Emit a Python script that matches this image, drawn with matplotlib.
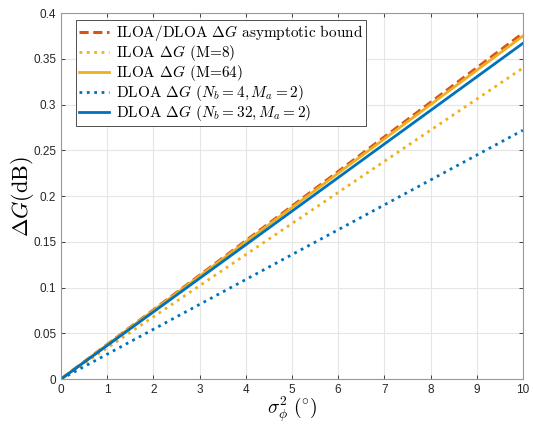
import matplotlib
matplotlib.use("Agg")
import matplotlib.pyplot as plt

# sigma_phi^2 (deg) samples and Delta G (dB)
sigma2 = [0, 1, 2, 3, 4, 5, 6, 7, 8, 9, 10]
bound = [0, 0.0378, 0.0756, 0.1134, 0.1512, 0.189, 0.2268, 0.2646, 0.3024, 0.3402, 0.378]
iloa_m8 = [0, 0.034, 0.068, 0.102, 0.136, 0.170, 0.204, 0.238, 0.272, 0.306, 0.340]
iloa_m64 = [0, 0.0375, 0.075, 0.1125, 0.150, 0.1875, 0.225, 0.2625, 0.300, 0.3375, 0.375]
dloa_nb4 = [0, 0.0272, 0.0544, 0.0816, 0.1088, 0.136, 0.1632, 0.1904, 0.2176, 0.2448, 0.272]
dloa_nb32 = [0, 0.0367, 0.0734, 0.1101, 0.1468, 0.1835, 0.2202, 0.2569, 0.2936, 0.3303, 0.367]

plt.rcParams['mathtext.fontset'] = 'cm'
plt.rcParams['font.family'] = ['Liberation Sans', 'DejaVu Sans']

red = '#D95319'
orange = '#EDB120'
blue = '#0072BD'

fig = plt.figure(figsize=(5.33, 4.24), dpi=100)
ax = fig.add_axes([0.1145, 0.106, 0.8665, 0.863])

ax.plot(sigma2, bound, color=red, linestyle='--', linewidth=2.2, dashes=(3, 1.5),
        label=r'ILOA/DLOA $\Delta G$ asymptotic bound')
ax.plot(sigma2, iloa_m8, color=orange, linestyle=':', linewidth=2,
        label=r'ILOA $\Delta G$ (M=8)')
ax.plot(sigma2, iloa_m64, color=orange, linestyle='-', linewidth=2,
        label=r'ILOA $\Delta G$ (M=64)')
ax.plot(sigma2, dloa_nb4, color=blue, linestyle=':', linewidth=2,
        label=r'DLOA $\Delta G$ $(N_b=4, M_a=2)$')
ax.plot(sigma2, dloa_nb32, color=blue, linestyle='-', linewidth=2,
        label=r'DLOA $\Delta G$ $(N_b=32, M_a=2)$')

ax.set_xlim(0, 10)
ax.set_ylim(0, 0.4)
ax.set_xticks(range(0, 11))
ax.set_yticks([0, 0.05, 0.1, 0.15, 0.2, 0.25, 0.3, 0.35, 0.4])
ax.set_yticklabels(['0', '0.05', '0.1', '0.15', '0.2', '0.25', '0.3', '0.35', '0.4'])
ax.grid(True, color='#e6e6e6', linewidth=0.8)
ax.set_axisbelow(True)
ax.tick_params(direction='in', top=True, right=True, labelsize=8.5,
               colors='#262626', length=3, width=0.6)
for s in ax.spines.values():
    s.set_color('#999999')
    s.set_linewidth(0.8)

ax.set_xlabel(r'$\sigma_\phi^2\ (^{\circ})$', fontsize=14, labelpad=-1)
ax.set_ylabel(r'$\Delta G(\mathrm{dB})$', fontsize=16, labelpad=-2)

leg = ax.legend(loc='upper left', bbox_to_anchor=(0.032, 0.981), borderaxespad=0,
                prop={'family': 'cmr10', 'size': 11},
                handlelength=2.0, handletextpad=0.4, labelspacing=0.0,
                borderpad=0.2, fancybox=False, edgecolor='#333333', framealpha=1)
leg.get_frame().set_linewidth(0.6)

fig.savefig('out.png', dpi=100)
